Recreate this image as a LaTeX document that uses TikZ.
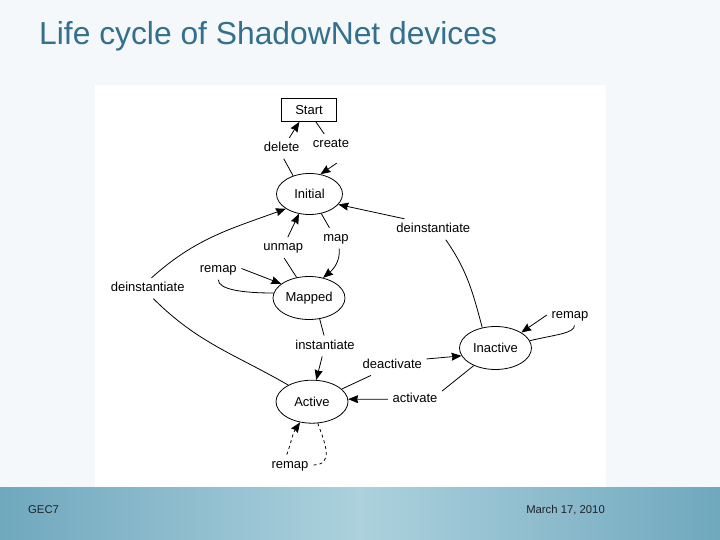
\documentclass[tikz,border=0pt]{standalone}
\usepackage{fontspec}
\setmainfont{Liberation Sans}
\usetikzlibrary{arrows.meta,shapes.geometric}
\definecolor{slidebg}{RGB}{244,248,250}
\definecolor{titleteal}{RGB}{52,112,140}
\definecolor{bandlight}{RGB}{172,209,221}
\definecolor{banddark}{RGB}{112,168,190}
\definecolor{footgrey}{RGB}{30,35,40}
\begin{document}
\begin{tikzpicture}[x=1pt,y=1pt,
	state/.style={ellipse,draw,line width=0.8pt,inner sep=0pt,minimum width=72pt,minimum height=43pt,font=\fontsize{13}{15}\selectfont},
	startbox/.style={rectangle,draw,line width=0.8pt,inner sep=0pt,minimum width=55pt,minimum height=23pt,font=\fontsize{13}{15}\selectfont},
	lbl/.style={inner sep=4.5pt,text height=9pt,text depth=2.5pt,font=\fontsize{13}{15}\selectfont},
	link/.style={line width=0.8pt},
	linktip/.style={line width=0.8pt,arrows = {-Stealth[length=10pt, inset=1pt,width=8pt]}}]
	\useasboundingbox (0,0) rectangle (720,540);
	\fill[slidebg] (0,0) rectangle (720,540);
	\shade[left color=banddark,right color=banddark,middle color=bandlight] (0,0) rectangle (720,52);
	\fill[white] (95,53) rectangle (606,455);

	\node[anchor=base west,inner sep=0pt,font=\fontsize{31.8}{36}\selectfont,text=titleteal] (title) at (39,495.5) {Life cycle of ShadowNet devices};
	\node[anchor=base west,inner sep=0pt,font=\fontsize{11.3}{13}\selectfont,text=footgrey] (gec) at (28,26.7) {GEC7};
	\node[anchor=base east,inner sep=0pt,font=\fontsize{11.3}{13}\selectfont,text=footgrey] (date) at (605,26.7) {March 17, 2010};

	\node[startbox] (start) at (309,430) {Start};
	\node[state,minimum width=66pt,minimum height=41pt] (initial) at (309.5,346) {Initial};
	\node[state] (mapped) at (309,242) {Mapped};
	\node[state] (inactive) at (495.5,192) {Inactive};
	\node[state] (active) at (312,138.3) {Active};

	\node[lbl] (delete) at (281.7,391.7) {delete};
	\node[lbl] (create) at (331,395.7) {create};
	\node[lbl] (unmap) at (283.3,292.3) {unmap};
	\node[lbl] (map) at (336,301.7) {map};
	\node[lbl] (deinstR) at (433.3,310.7) {deinstantiate};
	\node[lbl] (remapL) at (218.3,270.7) {remap};
	\node[lbl] (deinstL) at (147.7,251.7) {deinstantiate};
	\node[lbl] (remapR) at (570,225) {remap};
	\node[lbl] (instantiate) at (325,194) {instantiate};
	\node[lbl] (deactivate) at (392.3,175) {deactivate};
	\node[lbl] (activate) at (415,140.7) {activate};
	\node[lbl] (remapB) at (290,75) {remap};

	\draw[link] (initial.132) -- (delete.-79);
	\draw[linktip] (delete.54) -- (start.-129);
	\draw[link] (start.-60) -- (create.123);
	\draw[linktip,shorten <=15pt] (create.-30) -- (initial.61);
	\draw[linktip] (unmap.67) -- (initial.-118);
	\draw[link] (mapped.121) -- (unmap.-85);
	\draw[link] (initial.-59) -- (map.122);
	\draw[linktip] (map.-73) to[out=-85,in=40] (mapped.55);
	\draw[linktip] (deinstR.160) -- (initial.-20);
	\draw[link] (deinstR.-40) to[out=-55,in=105] (inactive.123);
	\draw[linktip] (deinstL.70) to[out=42,in=200] (initial.-148);
	\draw[link] (deinstL.-61) to[out=-45,in=150] (active.145);
	\draw[linktip] (remapL.2) -- (mapped.153);
	\draw[link] (remapL.-90) .. controls +(0,-10) and +(-30,0) .. (mapped.172);
	\draw[link] (mapped.-63) -- (instantiate.95);
	\draw[linktip] (instantiate.-105) -- (active.79);
	\draw[link] (active.23) -- (deactivate.-154);
	\draw[linktip] (deactivate.10) -- (inactive.-167);
	\draw[link] (inactive.-141) -- (activate.17);
	\draw[linktip] (activate.180) -- (active.4);
	\draw[linktip] (remapR.180) -- (inactive.31);
	\draw[link] (remapR.-67) .. controls +(0,-8) and +(25,6) .. (inactive.12);
	\draw[linktip,dashed] (remapB.107) to[out=70,in=-124] (active.-120);
	\draw[link,dashed] (active.-75) to[out=-70,in=0,looseness=1.3] (remapB.0);
\end{tikzpicture}
\end{document}
